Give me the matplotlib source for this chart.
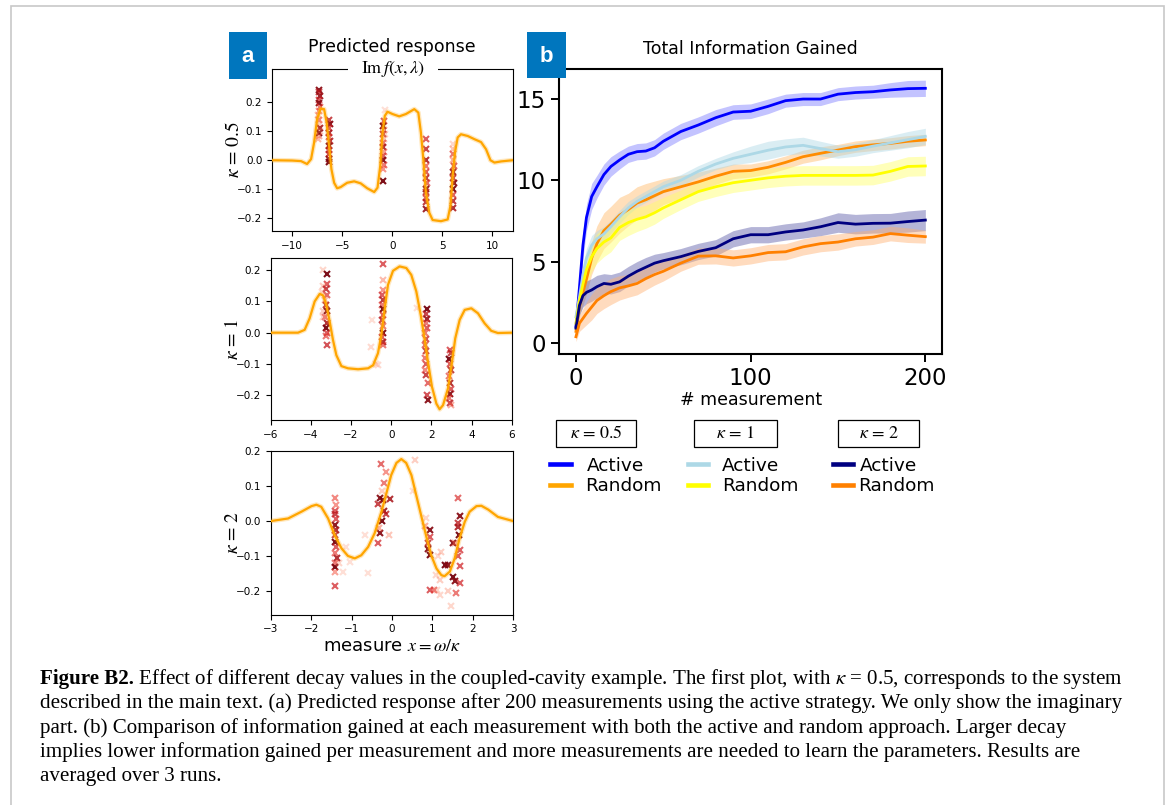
import matplotlib
matplotlib.use('Agg')
import matplotlib.pyplot as plt
from matplotlib.patches import Rectangle
from matplotlib.lines import Line2D

plt.rcParams['mathtext.fontset'] = 'stix'

W, H = 1171, 805

# ---- panel a: predicted response curves (Im f) ----
top_x = [-12, -10, -9.1, -8.5, -8.1, -7.8, -7.5, -7.15, -6.8, -6.55, -6.3, -6.07, -5.8, -5.5, -5.15,
         -4.5, -3.8, -3.15, -2.5, -1.8, -1.47, -1.2, -0.97, -0.74, -0.47, 0.03, 0.7, 1.36, 2.2, 2.6,
         2.86, 3.1, 3.36, 3.7, 4.03, 4.86, 5.53, 5.8, 6.03, 6.26, 6.53, 6.86, 7.53, 8.2, 8.86,
         9.36, 9.8, 10.2, 10.86, 12]
top_y = [0.0, -0.001, -0.003, -0.013, 0.004, 0.061, 0.142, 0.179, 0.177, 0.131, 0.05, -0.031, -0.078,
         -0.097, -0.093, -0.078, -0.073, -0.08, -0.097, -0.110, -0.095, -0.02, 0.096, 0.154, 0.168,
         0.16, 0.152, 0.16, 0.177, 0.165, 0.096, 0.004, -0.112, -0.182, -0.207, -0.211, -0.205,
         -0.159, -0.055, 0.027, 0.079, 0.09, 0.084, 0.073, 0.063, 0.038, 0.0, -0.008, -0.004, 0.0]

mid_x = [-6, -4.64, -4.31, -4.06, -3.81, -3.56, -3.39, -3.23, -3.06, -2.9, -2.73, -2.48, -2.15,
         -1.65, -1.15, -0.9, -0.66, -0.49, -0.32, -0.16, 0.09, 0.42, 0.75, 1.0, 1.25, 1.47, 1.67,
         1.83, 2.03, 2.25, 2.41, 2.58, 2.83, 3.03, 3.19, 3.41, 3.66, 3.99, 4.32, 4.65, 4.98, 5.31, 6]
mid_y = [0.0, 0.0, 0.009, 0.046, 0.1, 0.124, 0.119, 0.089, 0.035, -0.023, -0.072, -0.107, -0.114,
         -0.117, -0.114, -0.104, -0.066, -0.007, 0.078, 0.153, 0.198, 0.212, 0.207, 0.185, 0.132,
         0.057, -0.023, -0.093, -0.173, -0.227, -0.245, -0.232, -0.178, -0.093, -0.018, 0.041,
         0.073, 0.078, 0.062, 0.03, 0.006, -0.001, 0.0]

bot_x = [-3.0, -2.57, -2.24, -1.99, -1.87, -1.75, -1.58, -1.42, -1.25, -1.09, -0.92, -0.76, -0.59,
         -0.43, -0.26, -0.14, -0.02, 0.11, 0.23, 0.35, 0.48, 0.6, 0.73, 0.85, 0.97, 1.1, 1.22, 1.3,
         1.43, 1.55, 1.67, 1.8, 1.92, 2.09, 2.21, 2.38, 2.62, 3.0]
bot_y = [0.0, 0.0075, 0.027, 0.043, 0.047, 0.041, 0.0075, -0.04, -0.078, -0.1, -0.107, -0.098,
         -0.074, -0.035, 0.027, 0.079, 0.132, 0.167, 0.178, 0.167, 0.132, 0.074, 0.012, -0.045,
         -0.098, -0.136, -0.155, -0.158, -0.145, -0.107, -0.05, -0.002, 0.027, 0.043, 0.044,
         0.033, 0.012, 0.0]

# measurements: (x, y, shade) shade 0 = early/light, 1 = late/dark
top_pts = [
    (-7.35, 0.245, 0.9), (-7.3, 0.235, 0.7), (-7.25, 0.222, 0.85), (-7.35, 0.21, 0.6), (-7.3, 0.198, 0.9),
    (-7.25, 0.185, 0.5), (-7.3, 0.17, 0.35), (-7.4, 0.155, 0.2), (-7.3, 0.14, 0.45), (-7.35, 0.125, 0.15),
    (-7.25, 0.11, 0.8), (-7.3, 0.095, 0.95), (-7.35, 0.085, 0.3), (-7.4, 0.072, 0.25), (-7.2, 0.10, 0.1),
    (-6.3, 0.14, 0.7), (-6.25, 0.125, 0.9), (-6.3, 0.11, 0.6), (-6.35, 0.095, 0.8), (-6.3, 0.08, 0.5),
    (-6.25, 0.065, 0.75), (-6.3, 0.05, 0.9), (-6.3, 0.035, 0.6), (-6.35, 0.02, 0.7), (-6.3, 0.005, 0.85),
    (-6.3, -0.005, 0.95),
    (-0.75, 0.175, 0.05), (-0.85, 0.135, 0.6), (-0.9, 0.12, 0.95), (-0.85, 0.105, 0.3), (-0.9, 0.09, 0.7),
    (-0.8, 0.075, 0.15), (-0.95, 0.06, 0.5), (-0.9, 0.045, 0.8), (-0.85, 0.03, 0.35), (-0.9, 0.015, 0.6),
    (-0.9, 0.0, 0.9), (-0.85, -0.015, 0.5), (-0.9, -0.03, 0.4), (-0.9, -0.072, 0.95), (-0.7, 0.09, 0.05),
    (3.4, 0.075, 0.6), (3.4, 0.04, 0.7), (3.4, 0.0, 0.8), (3.35, -0.02, 0.5), (3.4, -0.04, 0.6),
    (3.4, -0.06, 0.75), (3.45, -0.08, 0.55), (3.4, -0.1, 0.9), (3.4, -0.11, 0.7), (3.35, -0.13, 0.6),
    (3.4, -0.145, 0.75), (3.4, -0.168, 0.85),
    (6.1, 0.055, 0.1), (6.05, 0.04, 0.2), (6.1, 0.02, 0.5), (6.1, 0.0, 0.3), (6.15, -0.02, 0.6),
    (6.1, -0.04, 0.85), (6.1, -0.06, 0.7), (6.15, -0.08, 0.9), (6.1, -0.1, 0.95), (6.05, -0.12, 0.6),
    (6.1, -0.14, 0.75), (6.1, -0.165, 0.8),
]
mid_pts = [
    (-3.4, 0.2, 0.1), (-3.2, 0.188, 0.95), (-3.2, 0.155, 0.6), (-3.4, 0.15, 0.15), (-3.25, 0.14, 0.7),
    (-3.45, 0.13, 0.1), (-3.2, 0.12, 0.55), (-3.3, 0.105, 0.2), (-3.25, 0.09, 0.75), (-3.4, 0.07, 0.15),
    (-3.2, 0.07, 0.9), (-3.3, 0.05, 0.5), (-3.4, 0.05, 0.1), (-3.2, 0.03, 0.8), (-3.25, 0.015, 0.95),
    (-3.2, 0.0, 0.6), (-3.25, -0.01, 0.5), (-3.2, -0.04, 0.65),
    (-0.4, 0.22, 0.6), (-0.4, 0.17, 0.25), (-0.4, 0.135, 0.4), (-0.45, 0.12, 0.6), (-0.4, 0.105, 0.75),
    (-0.45, 0.09, 0.5), (-0.4, 0.075, 0.95), (-0.4, 0.055, 0.6), (-0.45, 0.04, 0.7), (-0.4, 0.02, 0.5),
    (-0.4, 0.0, 0.95), (-0.45, -0.015, 0.6), (-0.4, -0.03, 0.8), (-0.4, -0.04, 0.5),
    (-0.94, 0.041, 0.05), (-0.99, -0.045, 0.08), (-0.66, -0.104, 0.08), (-0.78, -0.1, 0.05), (1.28, 0.078, 0.05),
    (1.78, 0.075, 0.95), (1.75, 0.06, 0.7), (1.8, 0.045, 0.85), (1.75, 0.03, 0.5), (1.8, 0.015, 0.6),
    (1.7, 0.0, 0.5), (1.75, -0.02, 0.65), (1.7, -0.04, 0.55), (1.75, -0.06, 0.7), (1.7, -0.08, 0.5),
    (1.75, -0.1, 0.6), (1.7, -0.12, 0.45), (1.75, -0.135, 0.7), (1.85, -0.16, 0.55), (1.78, -0.2, 0.65),
    (1.82, -0.215, 0.9),
    (2.95, -0.055, 0.6), (3.0, -0.065, 0.7), (2.9, -0.085, 0.95), (2.95, -0.1, 0.6), (3.0, -0.12, 0.75),
    (2.9, -0.14, 0.5), (2.95, -0.16, 0.8), (3.0, -0.18, 0.6), (2.95, -0.195, 0.9), (2.9, -0.21, 0.5),
    (2.95, -0.225, 0.7), (3.0, -0.23, 0.3),
]
bot_pts = [
    (-1.4, 0.065, 0.45), (-1.38, 0.045, 0.4), (-1.4, 0.03, 0.6), (-1.42, 0.02, 0.7), (-1.38, 0.005, 0.6),
    (-1.4, -0.01, 0.9), (-1.38, -0.025, 0.8), (-1.4, -0.04, 0.7), (-1.42, -0.06, 0.95), (-1.38, -0.075, 0.6),
    (-1.4, -0.092, 0.5), (-1.35, -0.105, 0.8), (-1.42, -0.12, 0.5), (-1.42, -0.131, 0.95), (-1.4, -0.145, 0.35),
    (-1.4, -0.187, 0.6),
    (-1.13, -0.074, 0.05), (-1.21, -0.145, 0.05), (-0.68, -0.04, 0.05), (-0.59, -0.15, 0.05),
    (-1.05, -0.117, 0.05), (-1.3, -0.12, 0.1),
    (-0.28, 0.165, 0.55), (-0.16, 0.14, 0.4), (-0.2, 0.11, 0.5), (-0.3, 0.065, 0.9), (-0.22, 0.06, 0.95),
    (-0.35, 0.05, 0.7), (-0.04, 0.062, 0.8), (-0.2, 0.03, 0.85), (-0.15, 0.02, 0.7), (-0.25, 0.0, 0.95),
    (-0.3, -0.035, 0.9), (-0.35, -0.063, 0.6), (-0.08, -0.04, 0.2), (-0.33, -0.02, 0.3), (-0.25, 0.085, 0.15),
    (0.56, 0.175, 0.15), (0.53, 0.085, 0.05),
    (0.85, 0.008, 0.1), (0.81, -0.015, 0.3), (0.93, -0.025, 0.9), (0.95, -0.045, 0.6), (0.89, -0.062, 0.7),
    (0.89, -0.081, 0.9), (0.93, -0.096, 0.95), (0.95, -0.197, 0.6), (1.04, -0.197, 0.5),
    (1.14, -0.1, 0.1), (1.3, -0.125, 0.95), (1.39, -0.125, 0.9), (1.1, -0.155, 0.1), (1.18, -0.17, 0.15),
    (1.12, -0.197, 0.1), (1.39, -0.202, 0.15), (1.18, -0.212, 0.1), (1.45, -0.245, 0.1), (1.51, -0.16, 0.95),
    (1.57, -0.173, 0.9), (1.22, -0.09, 0.15),
    (1.62, 0.067, 0.55), (1.67, 0.015, 0.9), (1.63, -0.005, 0.7), (1.63, -0.016, 0.8), (1.65, -0.04, 0.95),
    (1.51, -0.063, 0.9), (1.67, -0.082, 0.6), (1.63, -0.1, 0.6), (1.67, -0.13, 0.6), (1.67, -0.178, 0.6),
    (1.59, -0.207, 0.5), (1.55, -0.063, 0.3),
]

# ---- panel b: total information gained ----
n_meas = [0, 2, 4, 6, 9, 12, 16, 20, 25, 30, 35, 40, 45, 50, 60, 70, 80, 90, 100, 110, 120, 130,
          140, 150, 160, 170, 180, 190, 200]
active_05 = [1.0, 3.4, 6.0, 7.7, 9.0, 9.6, 10.35, 10.85, 11.25, 11.6, 11.76, 11.8, 12.0, 12.4, 13.0,
             13.4, 13.85, 14.2, 14.25, 14.55, 14.9, 15.0, 15.0, 15.3, 15.4, 15.45, 15.56, 15.64, 15.66]
random_05 = [0.7, 2.2, 3.1, 3.9, 5.2, 6.1, 6.9, 7.3, 7.85, 8.2, 8.6, 8.8, 9.05, 9.3, 9.6, 9.9, 10.25,
             10.55, 10.6, 10.8, 11.1, 11.45, 11.66, 11.86, 12.07, 12.18, 12.27, 12.4, 12.48]
active_1 = [1.6, 2.8, 4.2, 5.2, 6.0, 6.4, 6.7, 7.15, 7.75, 8.3, 8.7, 9.0, 9.3, 9.6, 10.0, 10.55, 11.0,
            11.35, 11.6, 11.85, 12.05, 12.15, 11.95, 11.76, 11.88, 12.1, 12.3, 12.5, 12.7]
random_1 = [1.2, 2.6, 3.6, 4.5, 5.3, 5.8, 6.2, 6.45, 7.1, 7.4, 7.6, 7.75, 8.0, 8.3, 8.8, 9.3, 9.6,
            9.85, 10.0, 10.15, 10.25, 10.3, 10.3, 10.3, 10.3, 10.32, 10.55, 10.85, 10.88]
active_2 = [0.9, 2.3, 2.9, 3.1, 3.25, 3.45, 3.65, 3.6, 3.75, 4.1, 4.4, 4.65, 4.9, 5.05, 5.3, 5.62,
            5.85, 6.4, 6.65, 6.65, 6.82, 6.94, 7.14, 7.4, 7.3, 7.35, 7.36, 7.46, 7.55]
random_2 = [0.37, 1.2, 1.5, 1.8, 2.2, 2.6, 2.9, 3.15, 3.38, 3.5, 3.65, 3.95, 4.2, 4.4, 4.9, 5.33,
            5.35, 5.22, 5.35, 5.55, 5.6, 5.9, 6.1, 6.2, 6.4, 6.5, 6.72, 6.62, 6.53]
# half width of the shaded spread over runs
spread_a05 = [0.3, 0.6, 0.8, 0.8, 0.8, 0.7, 0.65, 0.6, 0.55, 0.5, 0.5, 0.5, 0.5, 0.5, 0.5, 0.5, 0.5,
              0.45, 0.45, 0.45, 0.4, 0.4, 0.4, 0.4, 0.4, 0.4, 0.45, 0.5, 0.5]
spread_r05 = [0.3, 0.6, 0.8, 0.9, 1.0, 1.1, 1.1, 1.1, 1.1, 1.0, 1.0, 1.0, 0.9, 0.8, 0.7, 0.6, 0.5,
              0.45, 0.4, 0.4, 0.4, 0.4, 0.4, 0.35, 0.35, 0.35, 0.35, 0.35, 0.35]
spread_a1 = [0.3, 0.5, 0.6, 0.6, 0.6, 0.5, 0.45, 0.4, 0.4, 0.4, 0.35, 0.35, 0.35, 0.35, 0.35, 0.35,
             0.35, 0.4, 0.5, 0.55, 0.5, 0.5, 0.45, 0.4, 0.4, 0.4, 0.45, 0.5, 0.5]
spread_r1 = [0.3, 0.6, 0.8, 0.9, 0.9, 0.9, 0.9, 0.85, 0.8, 0.8, 0.75, 0.7, 0.7, 0.65, 0.6, 0.6, 0.6,
             0.6, 0.6, 0.6, 0.6, 0.6, 0.6, 0.6, 0.6, 0.6, 0.6, 0.6, 0.6]
spread_a2 = [0.3, 0.6, 0.7, 0.7, 0.7, 0.7, 0.6, 0.6, 0.6, 0.6, 0.6, 0.6, 0.55, 0.5, 0.5, 0.5, 0.5,
             0.5, 0.5, 0.5, 0.5, 0.5, 0.55, 0.6, 0.6, 0.6, 0.6, 0.65, 0.65]
spread_r2 = [0.3, 0.5, 0.6, 0.7, 0.8, 0.8, 0.8, 0.8, 0.75, 0.7, 0.7, 0.7, 0.65, 0.6, 0.5, 0.5, 0.5,
             0.5, 0.5, 0.5, 0.5, 0.5, 0.5, 0.5, 0.45, 0.45, 0.45, 0.45, 0.4]

kappa_labels = ['0.5', '1', '2']

caption_bold = 'Figure B2.'
caption_lines = [
    ' Effect of different decay values in the coupled-cavity example. The first plot, with '
    r'$\kappa$ = 0.5, corresponds to the system',
    'described in the main text. (a) Predicted response after 200 measurements using the active '
    'strategy. We only show the imaginary',
    'part. (b) Comparison of information gained at each measurement with both the active and '
    'random approach. Larger decay',
    'implies lower information gained per measurement and more measurements are needed to learn '
    'the parameters. Results are',
    'averaged over 3 runs.',
]

BLUE_TAG = '#0076BE'


def box(x0, y0, x1, y1):
    return [x0 / W, 1 - y1 / H, (x1 - x0) / W, (y1 - y0) / H]


def fx(x):
    return x / W


def fy(y):
    return 1 - y / H


fig = plt.figure(figsize=(W / 100, H / 100), dpi=100)

# outer frame
fig.add_artist(Rectangle((fx(11), fy(812)), (1164 - 11) / W, (812 - 6) / H,
                         transform=fig.transFigure, fill=False, edgecolor='#c8c8c8', lw=1.2))

# ---- panel a ----
panels = [
    (box(272, 69, 512.5, 231), top_x, top_y, top_pts, (-12, 12), (-0.245, 0.316),
     [-10, -5, 0, 5, 10], '0.5'),
    (box(270.7, 258.3, 511.7, 420.5), mid_x, mid_y, mid_pts, (-6, 6), (-0.281, 0.238),
     [-6, -4, -2, 0, 2, 4, 6], '1'),
    (box(270.7, 450.7, 513.3, 614.5), bot_x, bot_y, bot_pts, (-3, 3), (-0.268, 0.202),
     [-3, -2, -1, 0, 1, 2, 3], '2'),
]
axes_a = []
for rect, cx, cy, pts, xl, yl, xt, kap in panels:
    ax = fig.add_axes(rect)
    for x, y, s in pts:
        ax.plot(x, y, marker='x', linestyle='none', markersize=5, mew=1.5,
                color=plt.cm.Reds(0.35 + 0.65 * s), alpha=0.25 + 0.75 * s, zorder=2)
    ax.plot(cx, cy, color='orange', lw=3.5, alpha=0.25, zorder=3)
    ax.plot(cx, cy, color='orange', lw=1.6, zorder=4)
    ax.set_xlim(*xl)
    ax.set_ylim(*yl)
    ax.set_xticks(xt)
    ax.set_yticks([-0.2, -0.1, 0.0, 0.1, 0.2])
    ax.tick_params(labelsize=7.5)
    ax.set_ylabel(r'$\kappa$ = %s' % kap, fontsize=14, family='STIXGeneral')
    ax.yaxis.set_label_coords(-0.12, 0.5)
    axes_a.append(ax)

axes_a[0].set_title('Predicted response', fontsize=12.5, pad=12)
# label sitting on the top spine
fig.add_artist(Rectangle((fx(348), fy(77)), 90 / W, 16 / H, transform=fig.transFigure,
                         facecolor='white', edgecolor='none', zorder=5))
fig.text(fx(393), fy(69), r'Im$\,f(x, \lambda)$', ha='center', va='center', fontsize=13,
         family='STIXGeneral', zorder=6)
axes_a[2].set_xlabel(r'measure $x = \omega/\kappa$', fontsize=13)
axes_a[2].xaxis.set_label_coords(0.5, -0.135)

# ---- panel b ----
axb = fig.add_axes(box(559, 69.3, 942.3, 354.3))
series = [
    (active_05, spread_a05, 'blue', '#7a7aff'),
    (random_05, spread_r05, '#ff8c00', '#ffb866'),
    (active_1, spread_a1, 'lightblue', 'lightblue'),
    (random_1, spread_r1, 'yellow', '#ffff66'),
    (active_2, spread_a2, 'navy', '#5a5aa8'),
    (random_2, spread_r2, '#ff8000', '#ffb070'),
]
for vals, spr, col, band in series:
    lo = [v - s for v, s in zip(vals, spr)]
    hi = [v + s for v, s in zip(vals, spr)]
    axb.fill_between(n_meas, lo, hi, color=band, alpha=0.45, lw=0)
    axb.plot(n_meas, vals, color=col, lw=2)
axb.set_xlim(-9.7, 209.7)
axb.set_ylim(-0.71, 16.83)
axb.set_xticks([0, 100, 200])
axb.set_yticks([0, 5, 10, 15])
axb.tick_params(labelsize=16.5, length=6, width=1.4)
for sp in axb.spines.values():
    sp.set_linewidth(1.5)
axb.set_title('Total Information Gained', fontsize=12.5, pad=11)
axb.set_xlabel('# measurement', fontsize=12.5)
axb.xaxis.set_label_coords(0.5, -0.13)

# legend of panel b: kappa boxes and line keys
kbox_x = [(556, 636), (694, 776.7), (838.3, 919)]
key_x = [(550, 570.7, 586.7, 585), (688, 708, 721.7, 721.7), (833, 853, 860, 858.3)]
key_cols = [('blue', 'orange'), ('lightblue', 'yellow'), ('navy', '#ff8000')]
for (x0, x1), (h0, h1, ta, tr), (ca, cr), kap in zip(kbox_x, key_x, key_cols, kappa_labels):
    fig.add_artist(Rectangle((fx(x0), fy(446.7)), (x1 - x0) / W, 26.7 / H,
                             transform=fig.transFigure, facecolor='white', edgecolor='black', lw=0.9))
    fig.text(fx((x0 + x1) / 2), fy(433.5), r'$\kappa$ = %s' % kap, ha='center', va='center',
             fontsize=13, family='STIXGeneral')
    fig.add_artist(Line2D([fx(h0), fx(h1)], [fy(464), fy(464)], transform=fig.transFigure,
                          color=ca, lw=3.3))
    fig.add_artist(Line2D([fx(h0), fx(h1)], [fy(485), fy(485)], transform=fig.transFigure,
                          color=cr, lw=3.3))
    fig.text(fx(ta), fy(466), 'Active', ha='left', va='center', fontsize=13.3)
    fig.text(fx(tr), fy(486), 'Random', ha='left', va='center', fontsize=13.3)

# panel tags
for (x0, y0, x1, y1), tag in [((229, 32, 266.7, 79), 'a'), ((526.7, 31.7, 566, 78.3), 'b')]:
    fig.add_artist(Rectangle((fx(x0), fy(y1)), (x1 - x0) / W, (y1 - y0) / H,
                             transform=fig.transFigure, facecolor=BLUE_TAG, edgecolor='none'))
    fig.text(fx((x0 + x1) / 2), fy((y0 + y1) / 2 + 1), tag, ha='center', va='center',
             color='white', fontsize=16, fontweight='bold', family='Liberation Sans')

# caption, size fitted to the width of the second line
renderer = fig.canvas.get_renderer()
probe = fig.text(0, 0, caption_lines[1], family='Liberation Serif', fontsize=14)
w14 = probe.get_window_extent(renderer).width
probe.remove()
cap_size = 14 * (1124 - 39.5) / w14

baselines = [684, 708, 732.5, 757, 780.5]
bt = fig.text(fx(39.5), fy(baselines[0]), caption_bold, family='Liberation Serif',
              fontweight='bold', fontsize=cap_size, va='baseline')
bw = bt.get_window_extent(renderer).width
for i, (line, yb) in enumerate(zip(caption_lines, baselines)):
    x0 = 39.5 + bw if i == 0 else 39.5
    fig.text(fx(x0), fy(yb), line, family='Liberation Serif', fontsize=cap_size, va='baseline')

fig.savefig('out.png', dpi=100)
